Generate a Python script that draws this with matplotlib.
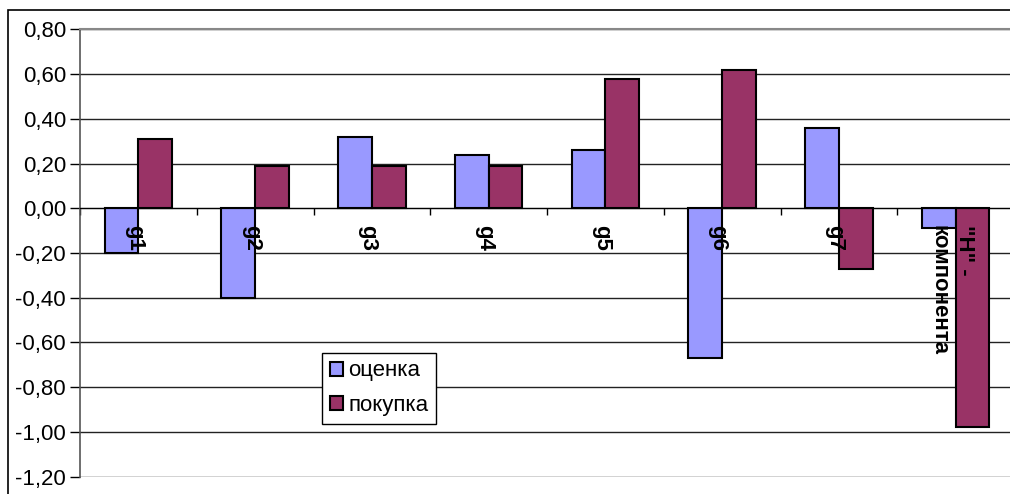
import numpy as np
import matplotlib
matplotlib.use('Agg')
from matplotlib import pyplot as plt
from matplotlib.patches import Rectangle
from matplotlib.transforms import offset_copy

# данные
categories = ['g1', 'g2', 'g3', 'g4', 'g5', 'g6', 'g7', '"Н" -\nкомпонента']
ocenka = [-0.20, -0.40, 0.32, 0.24, 0.26, -0.67, 0.36, -0.09]
pokupka = [0.31, 0.19, 0.19, 0.19, 0.58, 0.62, -0.27, -0.98]
yticks = [0.8, 0.6, 0.4, 0.2, 0.0, -0.2, -0.4, -0.6, -0.8, -1.0, -1.2]

plt.rcParams['font.family'] = ['Liberation Sans', 'DejaVu Sans']

fig = plt.figure(figsize=(10.10, 4.94), dpi=100)
# рамка вокруг диаграммы
fig.patches.append(Rectangle((8 / 1010, -0.1), 1.2, 1.1 - 10 / 494,
                             transform=fig.transFigure, fill=False,
                             edgecolor='black', lw=1.2))

ax = fig.add_axes([80 / 1010, 1 - 476.5 / 494, 934 / 1010, 447 / 494])
ax.set_axisbelow(True)
x = np.arange(len(categories))
w = 0.29
ax.bar(x - w / 2, ocenka, w, color='#9999FF', edgecolor='black', lw=1.5,
       label='оценка', zorder=3)
ax.bar(x + w / 2, pokupka, w, color='#993366', edgecolor='black', lw=1.5,
       label='покупка', zorder=3)

ax.set_xlim(-0.5, len(categories) - 0.5)
ax.set_ylim(-1.2, 0.8)
ax.set_yticks(yticks)
ax.set_yticklabels([('%.2f' % v).replace('.', ',') for v in yticks], fontsize=16)
ax.yaxis.grid(True, color='#222222', lw=1)
ax.tick_params(axis='y', direction='out', length=7, width=1, pad=3)

# ось X проходит через ноль
ax.spines['bottom'].set_position(('data', 0))
ax.spines['bottom'].set_color('black')
ax.spines['bottom'].set_zorder(4)
ax.spines['top'].set_color('#888888')
ax.spines['top'].set_linewidth(1.5)
ax.spines['right'].set_visible(False)
ax.spines['left'].set_color('#555555')
ax.spines['left'].set_linewidth(1.2)
ax.set_xticks(np.arange(len(categories) + 1) - 0.5)
ax.set_xticklabels([])
ax.tick_params(axis='x', which='major', direction='out', length=5, width=1)

# подписи категорий поверх столбиков
tr = offset_copy(ax.transData, fig=fig, x=-4, y=-17, units='dots')
for xi, name in zip(x, categories):
    ax.text(xi, 0, name, transform=tr, rotation=-90, ha='center', va='top',
            multialignment='left', fontsize=16, fontweight='bold', zorder=5,
            linespacing=1.3)

leg = ax.legend(loc='upper left', bbox_to_anchor=(0.259, 0.277), fontsize=16,
                fancybox=False, edgecolor='black', framealpha=1,
                handlelength=0.6, handleheight=0.6, handletextpad=0.25,
                borderpad=0.35, labelspacing=0.6, borderaxespad=0)
leg.get_frame().set_linewidth(1)
leg.set_zorder(6)

plt.savefig('out.png', dpi=100)
